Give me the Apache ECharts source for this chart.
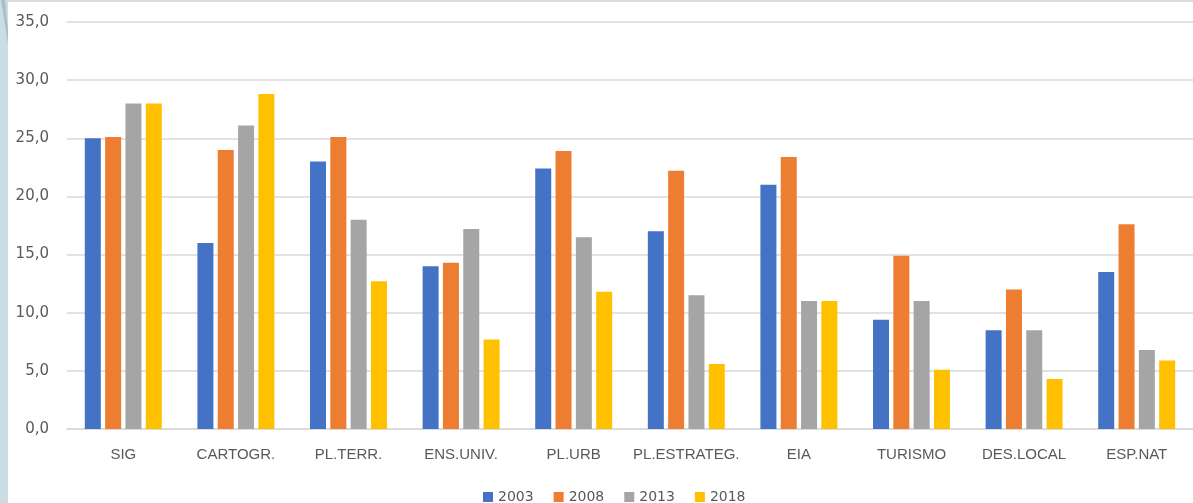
<!DOCTYPE html>
<html>
<head>
<meta charset="utf-8">
<script src="https://cdn.jsdelivr.net/npm/echarts@6/dist/echarts.min.js"></script>
<style>
html,body{margin:0;padding:0;background:#fff;}
#chart{width:1193px;height:503px;}
</style>
</head>
<body>
<div id="chart"></div>
<script>
const categories = ['SIG','CARTOGR.','PL.TERR.','ENS.UNIV.','PL.URB','PL.ESTRATEG.','EIA','TURISMO','DES.LOCAL','ESP.NAT'];
const seriesNames = ['2003','2008','2013','2018'];
const v2003 = [25.0, 16.0, 23.0, 14.0, 22.4, 17.0, 21.0, 9.4, 8.5, 13.5];
const v2008 = [25.1, 24.0, 25.1, 14.3, 23.9, 22.2, 23.4, 14.9, 12.0, 17.6];
const v2013 = [28.0, 26.1, 18.0, 17.2, 16.5, 11.5, 11.0, 11.0, 8.5, 6.8];
const v2018 = [28.0, 28.8, 12.7, 7.7, 11.8, 5.6, 11.0, 5.1, 4.3, 5.9];
const colors = ['#4472c4','#ed7d31','#a5a5a5','#ffc000'];
const yMin = 0, yMax = 35, yStep = 5;

const chart = echarts.init(document.getElementById('chart'));
const allValues = [v2003, v2008, v2013, v2018];
chart.setOption({
  animation: false,
  backgroundColor: '#ffffff',
  color: colors,
  graphic: [
    { type: 'rect', left: 0, top: 0, shape: { width: 8, height: 503 }, style: { fill: '#cadde5' }, z: 0 },
    { type: 'polygon', shape: { points: [[1,0],[5,0],[8,30],[8,44]] }, style: { fill: '#a9c0cb' }, z: 1 },
    { type: 'rect', left: 8, top: 0, shape: { width: 1185, height: 2 }, style: { fill: '#dcdcdc' }, z: 0 }
  ],
  grid: { left: 67, right: -4, top: 22, bottom: 74, containLabel: false },
  legend: {
    data: seriesNames,
    left: 478, top: 485,
    icon: 'rect', itemWidth: 10, itemHeight: 10, itemGap: 20,
    textStyle: { color: '#595959', fontSize: 14, fontFamily: 'DejaVu Sans' }
  },
  xAxis: {
    type: 'category',
    data: categories,
    axisTick: { show: false },
    axisLine: { lineStyle: { color: '#d9d9d9', width: 1.5 } },
    axisLabel: { color: '#595959', fontSize: 15, fontFamily: 'Liberation Sans', margin: 18, interval: 0 }
  },
  yAxis: {
    type: 'value',
    min: yMin, max: yMax, interval: yStep,
    axisLine: { show: false },
    axisTick: { show: false },
    axisLabel: {
      color: '#595959', fontSize: 15, fontFamily: 'DejaVu Sans', margin: 18,
      formatter: v => v.toFixed(1).replace('.', ',')
    },
    splitLine: { lineStyle: { color: '#d9d9d9', width: 1.5 } }
  },
  series: seriesNames.map((name, i) => ({
    name: name,
    type: 'bar',
    data: allValues[i],
    barWidth: 16,
    barGap: '27%',
    itemStyle: { color: colors[i] }
  }))
});
</script>
</body>
</html>
